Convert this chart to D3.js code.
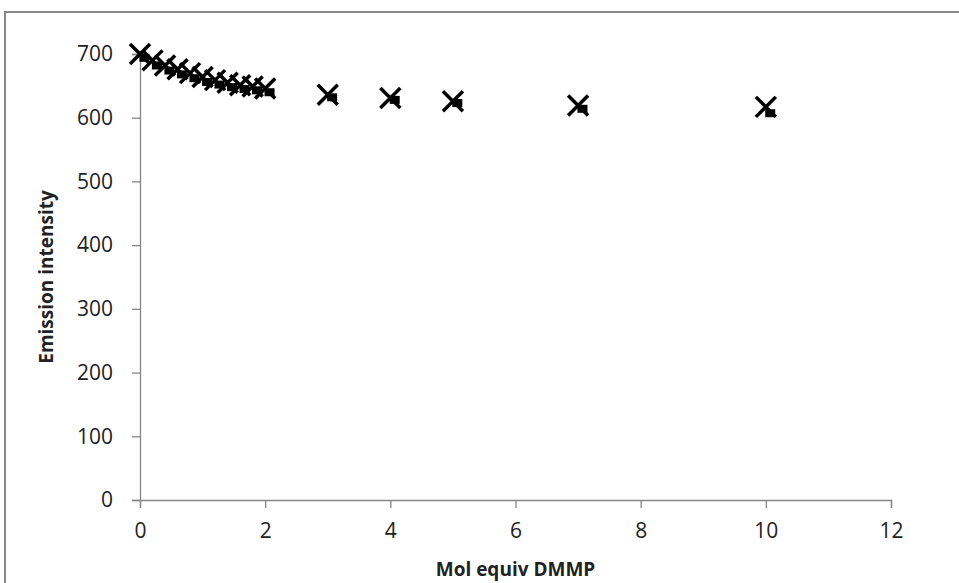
<!DOCTYPE html>
<html>
<head>
<meta charset="utf-8">
<script src="https://cdn.jsdelivr.net/npm/d3@7"></script>
<style>
  body { margin: 0; background: #fff; }
  text { font-family: "Open Sans", "Liberation Sans", sans-serif; fill: #222; }
</style>
</head>
<body>
<svg id="chart"></svg>
<script>
// Series values
const xVals = [0, 0.2, 0.4, 0.6, 0.8, 1.0, 1.2, 1.4, 1.6, 1.8, 2.0, 3, 4, 5, 7, 10];
const crossVals = [700, 690, 682, 676, 670, 664, 659, 655, 651, 649, 646, 636, 631, 626, 619, 617];
const squareX = [0.07, 0.27, 0.47, 0.67, 0.87, 1.07, 1.27, 1.47, 1.67, 1.87, 2.07, 3.07, 4.07, 5.07, 7.07, 10.07];
const squareVals = [694, 682, 674, 668, 662, 656, 652, 648, 645, 643, 640, 632, 628, 623, 614, 607];
const xTicks = [0, 2, 4, 6, 8, 10, 12];
const yTicks = [0, 100, 200, 300, 400, 500, 600, 700];

const width = 959;
const height = 583;
const margin = { top: 54, right: 68, bottom: 83, left: 140 };

const svg = d3.select('#chart')
  .attr('width', width)
  .attr('height', height);

// outer chart border
svg.append('rect')
  .attr('x', 5).attr('y', 12)
  .attr('width', width + 10).attr('height', height + 10)
  .attr('fill', 'none')
  .attr('stroke', '#878787')
  .attr('stroke-width', 2);

const xScale = d3.scaleLinear()
  .domain([0, 12])
  .range([margin.left, width - margin.right]);

const yScale = d3.scaleLinear()
  .domain([0, 700])
  .range([height - margin.bottom, margin.top]);

// X axis
const xAxis = svg.append('g')
  .attr('transform', `translate(0,${height - margin.bottom})`)
  .call(d3.axisBottom(xScale).tickValues(xTicks).tickSize(8).tickPadding(15).tickFormat(d3.format('d')));

// Y axis
const yAxis = svg.append('g')
  .attr('transform', `translate(${margin.left},0)`)
  .call(d3.axisLeft(yScale).tickValues(yTicks).tickSize(8).tickPadding(19).tickFormat(d3.format('d')));

[xAxis, yAxis].forEach(g => {
  g.selectAll('path, line').attr('stroke', '#868686').attr('stroke-width', 1.3);
  g.selectAll('text').style('font-size', '21px').attr('fill', '#222');
});

// square markers (second series)
svg.append('g')
  .selectAll('rect')
  .data(squareX.map((x, i) => ({ x, y: squareVals[i] })))
  .join('rect')
  .attr('x', d => xScale(d.x) - 5)
  .attr('y', d => yScale(d.y) - 4)
  .attr('width', 10)
  .attr('height', 8)
  .attr('fill', '#000');

// cross markers
const s = 10;
svg.append('g')
  .selectAll('path')
  .data(xVals.map((x, i) => ({ x, y: crossVals[i] })))
  .join('path')
  .attr('d', d => {
    const cx = xScale(d.x), cy = yScale(d.y);
    return `M${cx - s},${cy - s}L${cx + s},${cy + s}M${cx - s},${cy + s}L${cx + s},${cy - s}`;
  })
  .attr('stroke', '#000')
  .attr('stroke-width', 3.5)
  .attr('fill', 'none');

// axis titles
svg.append('text')
  .attr('x', (margin.left + width - margin.right) / 2)
  .attr('y', 576)
  .attr('text-anchor', 'middle')
  .style('font-size', '19px')
  .style('font-weight', 'bold')
  .text('Mol equiv DMMP');

svg.append('text')
  .attr('transform', `translate(53,${(margin.top + height - margin.bottom) / 2}) rotate(-90)`)
  .attr('text-anchor', 'middle')
  .style('font-size', '19px')
  .style('font-weight', 'bold')
  .text('Emission intensity');
</script>
</body>
</html>
